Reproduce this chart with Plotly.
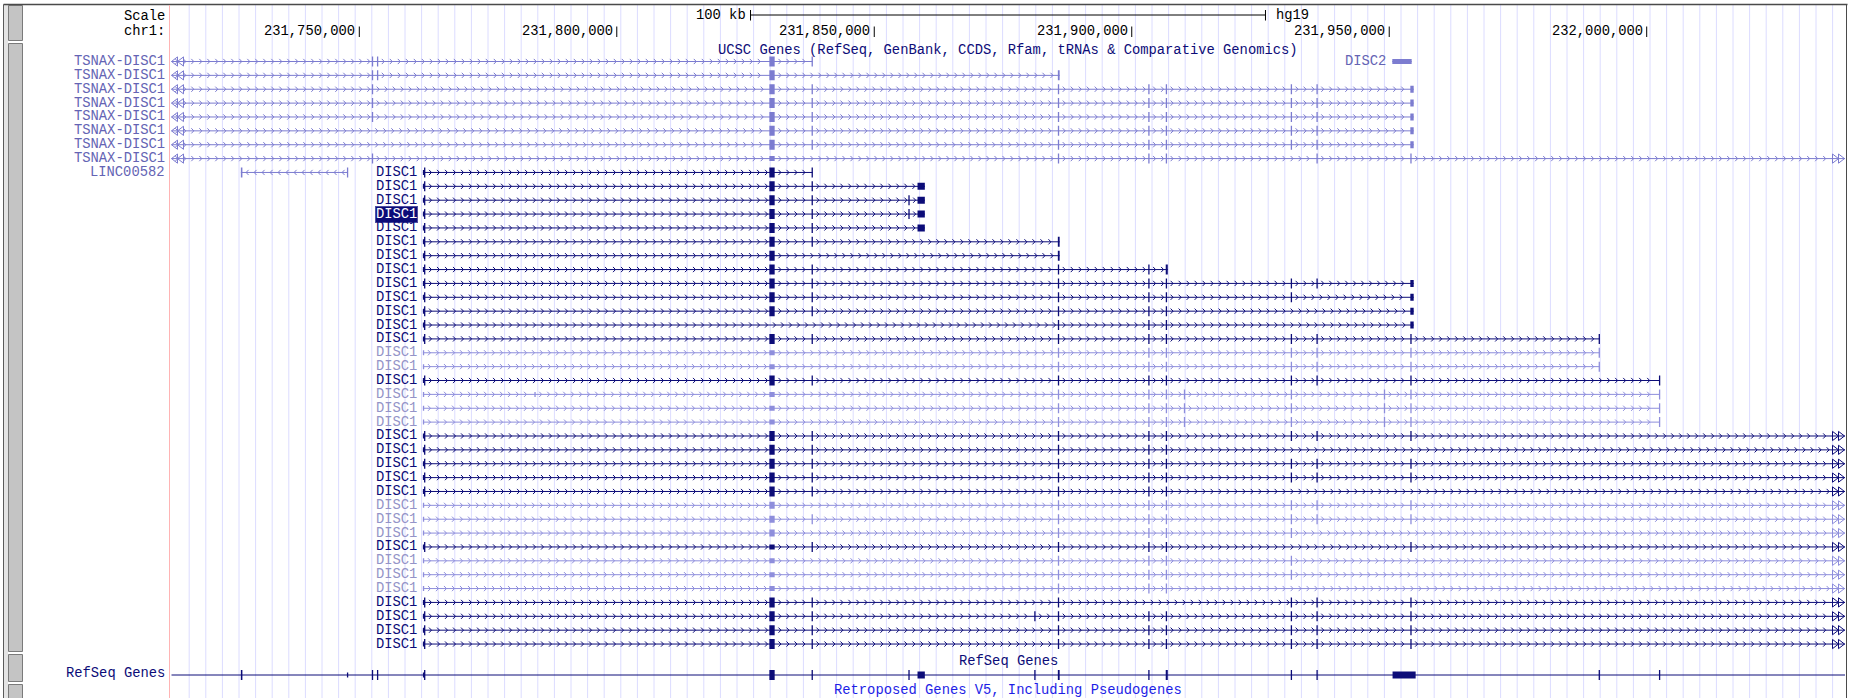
import plotly.graph_objects as go

# ---------------- data (chr1, hg19) ----------------
CHROM = "chr1"
ASSEMBLY = "hg19"
VIEW_START = 231_713_240
VIEW_END = 232_038_702

TICK_POS = [231_750_000, 231_800_000, 231_850_000, 231_900_000, 231_950_000, 232_000_000]
TICK_LABELS = ["231,750,000", "231,800,000", "231,850,000", "231,900,000", "231,950,000", "232,000,000"]
SCALE_BP = 100_000
SCALE_LABEL = "100 kb"

TRACK1_TITLE = "UCSC Genes (RefSeq, GenBank, CCDS, Rfam, tRNAs & Comparative Genomics)"
TRACK2_TITLE = "RefSeq Genes"
TRACK3_TITLE = "Retroposed Genes V5, Including Pseudogenes"

# exon blocks (start, end)
TSNAX_EX_A = (231_752_490, 231_752_640)
TSNAX_EX_B = (231_753_480, 231_753_630)
LINC_EX1 = (231_727_000, 231_727_300)
LINC_EX2 = (231_747_650, 231_747_800)
EX1_UTR = (231_762_350, 231_762_600)
EX1_CDS = (231_762_600, 231_762_800)
EX1B = (231_784_050, 231_784_200)
EX2 = (231_829_630, 231_830_660)
EX3 = (231_837_880, 231_838_030)
EX3B = (231_856_680, 231_856_820)
EX3_END = (231_858_400, 231_859_820)
EX4B = (231_881_120, 231_881_270)
EX4 = (231_885_700, 231_885_860)
EX4_END = (231_885_650, 231_886_000)
EX5 = (231_903_260, 231_903_410)
EX6 = (231_906_660, 231_906_810)
EX6_END = (231_906_600, 231_907_000)
EX6B = (231_910_170, 231_910_320)
EX7 = (231_930_930, 231_931_080)
EX8 = (231_935_920, 231_936_070)
EX8B = (231_949_010, 231_949_160)
EX9 = (231_954_150, 231_954_300)
EX9_END = (231_954_100, 231_954_750)
EX9_LONG = (231_950_650, 231_955_130)
EX10A = (231_990_720, 231_990_870)
EX10B = (232_002_430, 232_002_580)
DISC2_EX = (231_950_600, 231_954_360)

TSNAX_TX_START = 231_664_000
DISC1_LONG_END = 232_177_000


def T(b):
    return (b[0], b[1], "T")


def M(b):
    return (b[0], b[1], "M")


def t(b):
    return (b[0], b[1], "t")


FIRST_DARK = [t(EX1_UTR), T(EX1_CDS)]
FIRST_LIGHT = [t(EX1_UTR)]
CORE = [T(EX2), T(EX3), T(EX4), T(EX5), T(EX6), T(EX7), T(EX8), T(EX9)]

TX_NAME = []
TX_SHADE = []
TX_STRAND = []
TX_EXONS = []
TX_END = []
TX_START = []


def add(name, shade, strand, exons, start=None, end=None):
    TX_NAME.append(name)
    TX_SHADE.append(shade)
    TX_STRAND.append(strand)
    TX_EXONS.append(exons)
    TX_START.append(start if start is not None else min(e[0] for e in exons))
    TX_END.append(end if end is not None else max(e[1] for e in exons))


# TSNAX-DISC1 read-through transcripts
add("TSNAX-DISC1", "mid", "+", [T(TSNAX_EX_A), T(TSNAX_EX_B), T(EX2), T(EX3)], start=TSNAX_TX_START)
add("TSNAX-DISC1", "mid", "+", [T(TSNAX_EX_A), T(TSNAX_EX_B), T(EX2), T(EX4_END)], start=TSNAX_TX_START)
for _ in range(3):
    add("TSNAX-DISC1", "mid", "+", [T(TSNAX_EX_A), T(EX2), T(EX3), T(EX4), T(EX5), T(EX6), T(EX7), T(EX8), M(EX9_END)], start=TSNAX_TX_START)
for _ in range(2):
    add("TSNAX-DISC1", "mid", "+", [T(EX2), T(EX3), T(EX4), T(EX5), T(EX6), T(EX7), T(EX8), M(EX9_END)], start=TSNAX_TX_START)
add("TSNAX-DISC1", "mid", "+", [T(TSNAX_EX_A), t(EX2), T(EX4), T(EX5), T(EX6), T(EX8), T(EX9)], start=TSNAX_TX_START, end=DISC1_LONG_END)
# LINC00582
add("LINC00582", "mid", "-", [T(LINC_EX1), T(LINC_EX2)])
# DISC1 transcripts
add("DISC1", "dark", "+", FIRST_DARK + [T(EX2), T(EX3)])
add("DISC1", "dark", "+", FIRST_DARK + [T(EX2), T(EX3), M(EX3_END)])
add("DISC1", "dark", "+", FIRST_DARK + [T(EX2), T(EX3), T(EX3B), M(EX3_END)])
add("DISC1", "dark", "+", FIRST_DARK + [T(EX2), T(EX3), T(EX3B), M(EX3_END)])
add("DISC1", "dark", "+", FIRST_DARK + [T(EX2), T(EX3), M(EX3_END)])
add("DISC1", "dark", "+", FIRST_DARK + [T(EX2), T(EX3), T(EX4_END)])
add("DISC1", "dark", "+", FIRST_DARK + [T(EX2), T(EX4_END)])
add("DISC1", "dark", "+", FIRST_DARK + [T(EX2), T(EX3), T(EX4), T(EX5), T(EX6_END)])
add("DISC1", "dark", "+", FIRST_DARK + [T(EX2), T(EX3), T(EX4), T(EX5), T(EX6), T(EX7), T(EX8), M(EX9_END)])
add("DISC1", "dark", "+", FIRST_DARK + [T(EX2), T(EX3), T(EX4), T(EX5), T(EX6), T(EX7), M(EX9_END)])
add("DISC1", "dark", "+", FIRST_DARK + [T(EX2), T(EX3), T(EX4), T(EX5), T(EX6), M(EX9_END)])
add("DISC1", "dark", "+", FIRST_DARK + [T(EX4), T(EX5), T(EX6), M(EX9_END)])
add("DISC1", "dark", "+", FIRST_DARK + CORE + [T(EX10A)])
add("DISC1", "light", "+", FIRST_LIGHT + [t(EX2), T(EX4), T(EX5), T(EX6), T(EX7), T(EX8), T(EX9), T(EX10A)])
add("DISC1", "light", "+", FIRST_LIGHT + [t(EX2), T(EX4), T(EX5), T(EX6), T(EX7), T(EX8), T(EX9), T(EX10A)])
add("DISC1", "dark", "+", FIRST_DARK + CORE + [T(EX10B)])
add("DISC1", "light", "+", FIRST_LIGHT + [t(EX1B), t(EX2), T(EX4), T(EX5), T(EX6), T(EX6B), T(EX7), T(EX8B), T(EX9), T(EX10B)])
add("DISC1", "light", "+", FIRST_LIGHT + [t(EX2), T(EX4), T(EX5), T(EX6), T(EX6B), T(EX7), T(EX8B), T(EX9), T(EX10B)])
add("DISC1", "light", "+", FIRST_LIGHT + [t(EX2), T(EX4), T(EX5), T(EX6), T(EX6B), T(EX7), T(EX8B), T(EX9), T(EX10B)])
add("DISC1", "dark", "+", FIRST_DARK + CORE, end=DISC1_LONG_END)
add("DISC1", "dark", "+", FIRST_DARK + [T(EX2), T(EX3), T(EX4), T(EX5), T(EX6)], end=DISC1_LONG_END)
add("DISC1", "dark", "+", FIRST_DARK + CORE, end=DISC1_LONG_END)
add("DISC1", "dark", "+", FIRST_DARK + CORE, end=DISC1_LONG_END)
add("DISC1", "dark", "+", FIRST_DARK + [T(EX2), T(EX3), T(EX4), T(EX5), T(EX6)], end=DISC1_LONG_END)
add("DISC1", "light", "+", FIRST_LIGHT + [M(EX2), T(EX4), T(EX5), T(EX6), T(EX7), T(EX8), T(EX9)], end=DISC1_LONG_END)
add("DISC1", "light", "+", FIRST_LIGHT + [M(EX2), T(EX3), T(EX4), T(EX5), T(EX6), T(EX7), T(EX8), T(EX9)], end=DISC1_LONG_END)
add("DISC1", "light", "+", FIRST_LIGHT + [M(EX2), T(EX4), T(EX5), T(EX6), T(EX7)], end=DISC1_LONG_END)
add("DISC1", "dark", "+", FIRST_DARK + [t(EX2), T(EX3), T(EX4), T(EX5), T(EX6), T(EX9)], end=DISC1_LONG_END)
add("DISC1", "light", "+", FIRST_LIGHT + [t(EX2), T(EX4), T(EX5), T(EX6), T(EX7)], end=DISC1_LONG_END)
add("DISC1", "light", "+", FIRST_LIGHT + [t(EX2), T(EX4), T(EX5), T(EX6), T(EX7)], end=DISC1_LONG_END)
add("DISC1", "light", "+", FIRST_LIGHT + [t(EX2), T(EX4), T(EX5), T(EX6)], end=DISC1_LONG_END)
add("DISC1", "dark", "+", FIRST_DARK + [T(EX2), T(EX3), T(EX4), T(EX7), T(EX8), T(EX9)], end=DISC1_LONG_END)
add("DISC1", "dark", "+", FIRST_DARK + [T(EX2), T(EX3), T(EX4B), T(EX4), T(EX5), T(EX6), T(EX7), T(EX8), T(EX9)], end=DISC1_LONG_END)
add("DISC1", "dark", "+", FIRST_DARK + CORE, end=DISC1_LONG_END)
add("DISC1", "dark", "+", FIRST_DARK + CORE, end=DISC1_LONG_END)
# DISC2
add("DISC2", "mid", "-", [t(DISC2_EX)])

HIGHLIGHT_ITEM = 12  # the boxed DISC1 label

# RefSeq Genes (dense) exons
REFSEQ_EXONS = [T(LINC_EX1), t(LINC_EX2), T(TSNAX_EX_A), T(TSNAX_EX_B), t(EX1_UTR), T(EX1_CDS),
                T(EX2), T(EX3), T(EX3B), M(EX3_END), T(EX4B), T(EX4_END), T(EX5), T(EX6_END),
                T(EX7), T(EX8), M(EX9_LONG), T(EX10A), T(EX10B)]

# ---------------- layout / styling ----------------
W, H = 1849, 698
ML, MR = 170, 3
PW = W - ML - MR
BPP = (VIEW_END - VIEW_START) / PW

DARK = "#0c0c78"
MID = "#7c7cd0"
LIGHT = "#8e8edc"
LABEL_COL = {"dark": DARK, "mid": "#6464b4", "light": "#9494c8"}
LINE_COL = {"dark": DARK, "mid": MID, "light": LIGHT}
GRID = "#dcdcff"
FONT = "Liberation Mono, DejaVu Sans Mono, monospace"
FS = 13.8
CHAR_W = 8.28

ROW0_Y = 61.5
ROW_PITCH = 13.87
HEIGHTS = {"T": 10, "M": 7, "t": 5}


def gx(px):
    return VIEW_START + (px - ML) * BPP


def pxg(g):
    return ML + (g - VIEW_START) / BPP


def paper(px):
    return (px - ML) / PW


# pack items into rows
row_end = []
TX_ROW = []
LABEL_INSIDE = []
for i in range(len(TX_NAME)):
    s_px = pxg(TX_START[i])
    e_px = pxg(TX_END[i])
    lab_w = len(TX_NAME[i]) * CHAR_W + 6
    inside = TX_START[i] > VIEW_START and (s_px - lab_w) >= ML
    occ_s = s_px - lab_w if inside else max(ML, s_px)
    LABEL_INSIDE.append(inside)
    for r in range(len(row_end)):
        if occ_s > row_end[r] + 2:
            row_end[r] = e_px
            TX_ROW.append(r)
            break
    else:
        row_end.append(e_px)
        TX_ROW.append(len(row_end) - 1)


def row_y(r):
    return ROW0_Y + r * ROW_PITCH


traces = []

# guidelines
gxs, gys = [], []
px = 189.2
while px < ML + PW:
    g = gx(px)
    gxs += [g, g, None]
    gys += [5, H + 2, None]
    px += 16.6
traces.append(go.Scatter(x=gxs, y=gys, mode="lines", line=dict(color=GRID, width=1), hoverinfo="skip"))

lines = {k: ([], []) for k in LINE_COL}
chev = {k: ([], []) for k in LINE_COL}
blocks = {k: ([], []) for k in LINE_COL}
ends_r = {k: ([], []) for k in LINE_COL}
ends_l = {k: ([], []) for k in LINE_COL}

X_LO = ML + 1.5
X_HI = ML + PW - 1


def add_block(store, s, e, y, h):
    a, b = pxg(s), pxg(e)
    if b - a < 1.3:
        c = (a + b) / 2
        a, b = c - 0.65, c + 0.65
    a, b = gx(a), gx(b)
    xs, ys = store
    xs += [a, b, b, a, a, None]
    ys += [y - h / 2, y - h / 2, y + h / 2, y + h / 2, y - h / 2, None]


for i in range(len(TX_NAME)):
    sh = TX_SHADE[i]
    y = row_y(TX_ROW[i])
    s_px = max(pxg(TX_START[i]), X_LO)
    e_px = min(pxg(TX_END[i]), X_HI)
    xs, ys = lines[sh]
    xs += [gx(s_px), gx(e_px), None]
    ys += [y, y, None]
    ex = sorted(TX_EXONS[i])
    # introns -> chevrons
    bounds = [s_px] + [v for e in ex for v in (pxg(e[0]), pxg(e[1]))] + [e_px]
    for k in range(0, len(bounds), 2):
        a, b = bounds[k], bounds[k + 1]
        a = max(a, X_LO)
        b = min(b, X_HI - (14 if TX_END[i] > VIEW_END else 0))
        c = a + 5
        cx, cy = chev[sh]
        while c <= b - 3:
            if TX_STRAND[i] == "+":
                pts = [(c - 1.2, y - 2.6), (c + 1.3, y), (c - 1.2, y + 2.6)]
            else:
                pts = [(c + 1.2, y - 2.6), (c - 1.3, y), (c + 1.2, y + 2.6)]
            for p in pts:
                cx.append(gx(p[0]))
                cy.append(p[1])
            cx.append(None)
            cy.append(None)
            c += 8
    for e in ex:
        add_block(blocks[sh], e[0], e[1], y, HEIGHTS[e[2]])
    if TX_END[i] > VIEW_END:
        rx, ry = ends_r[sh]
        rx += [gx(ML + PW - 11.5), gx(ML + PW - 5.5)]
        ry += [y, y]
    if TX_START[i] < VIEW_START:
        lx, ly = ends_l[sh]
        lx += [gx(ML + 5.5), gx(ML + 11.5)]
        ly += [y, y]

# RefSeq dense row
REFSEQ_Y = 675
xs, ys = lines["dark"]
xs += [gx(X_LO), gx(X_HI), None]
ys += [REFSEQ_Y, REFSEQ_Y, None]
for e in REFSEQ_EXONS:
    add_block(blocks["dark"], e[0], e[1], REFSEQ_Y, HEIGHTS[e[2]])

for sh in ["mid", "light", "dark"]:
    col = LINE_COL[sh]
    traces.append(go.Scatter(x=lines[sh][0], y=lines[sh][1], mode="lines",
                             line=dict(color=col, width=1), hoverinfo="skip"))
    traces.append(go.Scatter(x=chev[sh][0], y=chev[sh][1], mode="lines",
                             line=dict(color=col, width=1), hoverinfo="skip"))
    traces.append(go.Scatter(x=blocks[sh][0], y=blocks[sh][1], mode="lines", fill="toself",
                             fillcolor=col, line=dict(color=col, width=0), hoverinfo="skip"))
    if ends_r[sh][0]:
        traces.append(go.Scatter(x=ends_r[sh][0], y=ends_r[sh][1], mode="markers",
                                 marker=dict(symbol="triangle-right-open", size=8, color=col,
                                             line=dict(color=col, width=1)), hoverinfo="skip"))
    if ends_l[sh][0]:
        traces.append(go.Scatter(x=ends_l[sh][0], y=ends_l[sh][1], mode="markers",
                                 marker=dict(symbol="triangle-left-open", size=8, color=col,
                                             line=dict(color=col, width=1)), hoverinfo="skip"))

# scale bar and position ticks
center_g = (VIEW_START + VIEW_END) / 2
sb0, sb1 = center_g - SCALE_BP / 2, center_g + SCALE_BP / 2
sx = [sb0, sb1, None, sb0, sb0, None, sb1, sb1, None]
sy = [15, 15, None, 10, 20.5, None, 10, 20.5, None]
for g in TICK_POS:
    sx += [g, g, None]
    sy += [26.5, 37, None]
traces.append(go.Scatter(x=sx, y=sy, mode="lines", line=dict(color="black", width=1), hoverinfo="skip"))

annotations = []


def ann(x, y, text, color, xref="x", xanchor="right", size=FS, **kw):
    d = dict(x=x, y=y, xref=xref, yref="y", text=text, showarrow=False, xanchor=xanchor,
             yanchor="middle", font=dict(family=FONT, size=size, color=color), borderpad=0)
    d.update(kw)
    return d


LEFT_X = paper(166)
annotations.append(ann(LEFT_X, 16, "Scale", "black", xref="paper"))
annotations.append(ann(LEFT_X, 31.5, CHROM + ":", "black", xref="paper"))
annotations.append(ann(sb0, 15, SCALE_LABEL, "black", xshift=-4))
annotations.append(ann(sb1, 15, ASSEMBLY, "black", xanchor="left", xshift=10))
for g, lab in zip(TICK_POS, TICK_LABELS):
    annotations.append(ann(g, 31.5, lab, "black", xshift=-3))
annotations.append(ann(0.5, 50.5, TRACK1_TITLE, DARK, xref="paper", xanchor="center"))
annotations.append(ann(0.5, 661.5, TRACK2_TITLE, DARK, xref="paper", xanchor="center"))
annotations.append(ann(LEFT_X, 673.5, TRACK2_TITLE, DARK, xref="paper"))
annotations.append(ann(0.5, 690, TRACK3_TITLE, "#1e1ee6", xref="paper", xanchor="center"))

for i in range(len(TX_NAME)):
    y = row_y(TX_ROW[i])
    col = LABEL_COL[TX_SHADE[i]]
    if LABEL_INSIDE[i]:
        if i == HIGHLIGHT_ITEM:
            annotations.append(ann(TX_START[i], y, TX_NAME[i], "white", xshift=-5,
                                   bgcolor=DARK, bordercolor="#5050a0", borderwidth=1))
        else:
            annotations.append(ann(TX_START[i], y, TX_NAME[i], col, xshift=-5))
    else:
        annotations.append(ann(LEFT_X, y, TX_NAME[i], col, xref="paper"))

# frame / left control strip
shapes = []
shapes.append(dict(type="rect", xref="paper", yref="y", x0=paper(3.5), x1=paper(8), y0=4.5, y1=H + 2,
                   fillcolor="#e4e4e4", line=dict(width=0), layer="below"))
for y0, y1 in [(5.5, 40.5), (43.5, 651.5), (654.5, 681.5), (684.5, H + 5)]:
    shapes.append(dict(type="rect", xref="paper", yref="y", x0=paper(8.5), x1=paper(22.5), y0=y0, y1=y1,
                       fillcolor="#c4c4c4", line=dict(color="#7a7a7a", width=1), layer="below"))
shapes.append(dict(type="line", xref="paper", yref="y", x0=paper(3.5), x1=paper(3.5), y0=4.5, y1=H + 2,
                   line=dict(color="#5a5a5a", width=1)))
shapes.append(dict(type="line", xref="paper", yref="y", x0=paper(3.5), x1=paper(1847.5), y0=4.5, y1=4.5,
                   line=dict(color="#4a4a4a", width=1.5)))
shapes.append(dict(type="line", xref="paper", yref="y", x0=paper(1846.5), x1=paper(1846.5), y0=4.5, y1=H + 2,
                   line=dict(color="#4a4a4a", width=1)))
shapes.append(dict(type="line", xref="paper", yref="y", x0=paper(169.5), x1=paper(169.5), y0=5, y1=H + 2,
                   line=dict(color="#ffb4b4", width=1)))

fig = go.Figure(traces)
fig.update_layout(
    width=W, height=H,
    margin=dict(l=ML, r=MR, t=0, b=0, pad=0),
    paper_bgcolor="white", plot_bgcolor="white",
    showlegend=False,
    xaxis=dict(range=[VIEW_START, VIEW_END], visible=False, showgrid=False, zeroline=False, fixedrange=True),
    yaxis=dict(range=[H, 0], visible=False, showgrid=False, zeroline=False, fixedrange=True),
    annotations=annotations,
    shapes=shapes,
)
fig.write_html("out.html", config={"displayModeBar": False},
               post_script="document.body.style.margin='0px';document.body.style.overflow='hidden';")
